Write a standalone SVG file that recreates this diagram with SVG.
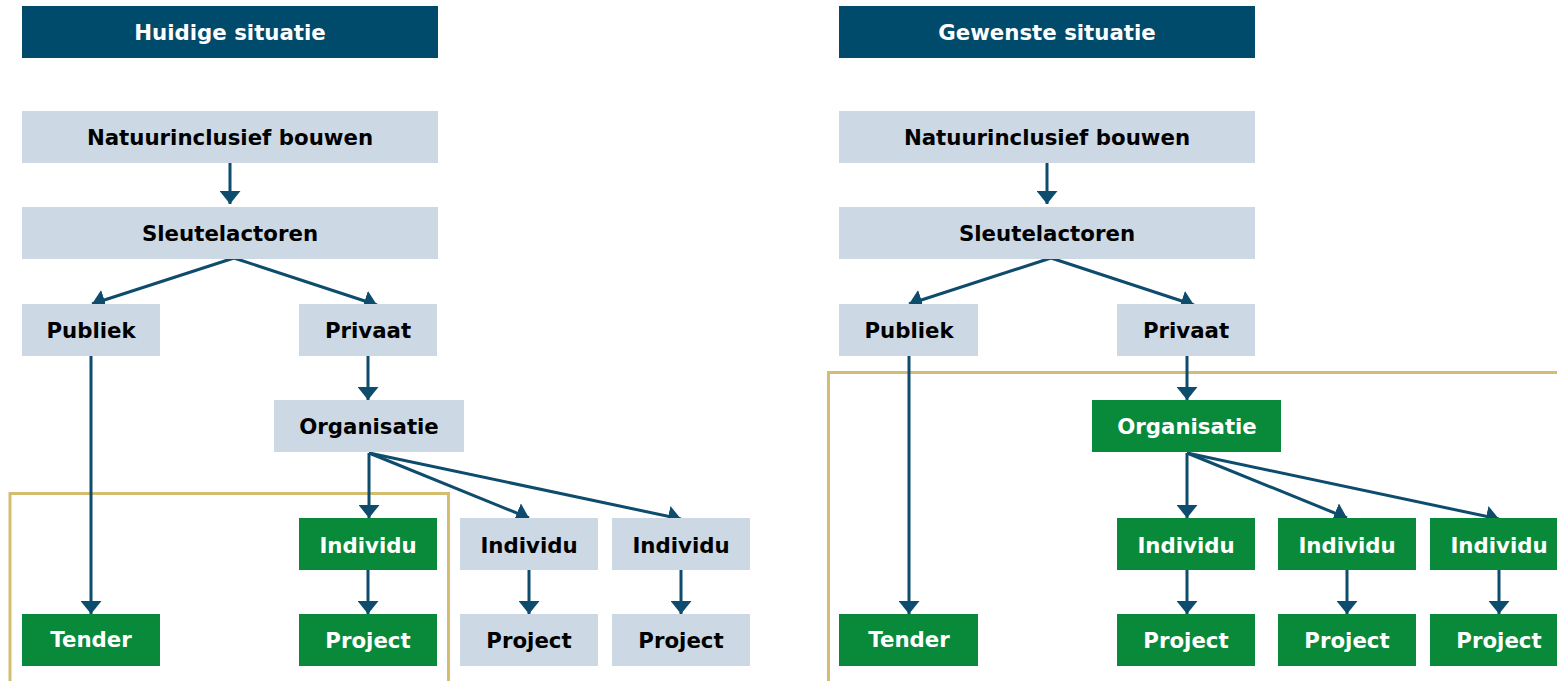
<svg xmlns="http://www.w3.org/2000/svg" width="1557" height="681" viewBox="0 0 1557 681">
<defs>
<style>
.hdr{fill:#004B6B}
.lt{fill:#CCD8E3}
.gr{fill:#088A3A}
text{font-family:"DejaVu Sans",Verdana,sans-serif;font-weight:bold;font-size:21.3px;text-anchor:middle}
.wt{fill:#ffffff}
.bk{fill:#000000}
.con line{stroke:#0D4C6C;stroke-width:3;fill:none;marker-end:url(#ah)}
.frame{fill:none;stroke:#D5BD70;stroke-width:3}
</style>
<marker id="ah" markerUnits="userSpaceOnUse" markerWidth="14" markerHeight="21" refX="13" refY="10.5" orient="auto" viewBox="0 0 14 21">
<path d="M0,0 L13,10.5 L0,21 z" fill="#0D4C6C"/>
</marker>
</defs>
<rect width="1557" height="681" fill="#ffffff"/>

<!-- frames -->
<path class="frame" d="M10,690 V493.5 H448.5 V690"/>
<path class="frame" d="M828.5,690 V372.5 H1570"/>

<!-- connectors -->
<g id="connectors" class="con">
<line x1="230" y1="163" x2="230" y2="204"/>
<line x1="234" y1="258" x2="92" y2="304"/>
<line x1="234" y1="258" x2="377" y2="305"/>
<line x1="91" y1="356" x2="91" y2="614"/>
<line x1="368" y1="356" x2="368" y2="400"/>
<line x1="369" y1="453" x2="369" y2="518"/>
<line x1="369" y1="453" x2="529" y2="518"/>
<line x1="369" y1="453" x2="681" y2="519"/>
<line x1="368" y1="570" x2="368" y2="614"/>
<line x1="529" y1="570" x2="529" y2="614"/>
<line x1="681" y1="570" x2="681" y2="614"/>

<line x1="1047" y1="163" x2="1047" y2="204"/>
<line x1="1051" y1="258" x2="909" y2="304"/>
<line x1="1051" y1="258" x2="1194" y2="305"/>
<line x1="909" y1="356" x2="909" y2="614"/>
<line x1="1187" y1="356" x2="1187" y2="400"/>
<line x1="1187" y1="453" x2="1187" y2="518"/>
<line x1="1187" y1="453" x2="1347" y2="518"/>
<line x1="1187" y1="453" x2="1499" y2="519"/>
<line x1="1187" y1="570" x2="1187" y2="614"/>
<line x1="1347" y1="570" x2="1347" y2="614"/>
<line x1="1499" y1="570" x2="1499" y2="614"/>
</g>

<!-- left panel -->
<g id="hdr-l"><rect class="hdr" x="22" y="6" width="416" height="52"/><text class="wt" x="230" y="40">Huidige situatie</text></g>
<g id="natuur-l"><rect class="lt" x="22" y="111" width="416" height="52"/><text class="bk" x="230" y="145">Natuurinclusief bouwen</text></g>
<g id="sleutel-l"><rect class="lt" x="22" y="207" width="416" height="52"/><text class="bk" x="230" y="241">Sleutelactoren</text></g>
<g id="publiek-l"><rect class="lt" x="22" y="304" width="138" height="52"/><text class="bk" x="91" y="338">Publiek</text></g>
<g id="privaat-l"><rect class="lt" x="299" y="304" width="138" height="52"/><text class="bk" x="368" y="338">Privaat</text></g>
<g id="org-l"><rect class="lt" x="274" y="400" width="190" height="52"/><text class="bk" x="369" y="434">Organisatie</text></g>
<g id="ind1-l"><rect class="gr" x="299" y="518" width="138" height="52"/><text class="wt" x="368" y="553">Individu</text></g>
<g id="ind2-l"><rect class="lt" x="460" y="518" width="138" height="52"/><text class="bk" x="529" y="553">Individu</text></g>
<g id="ind3-l"><rect class="lt" x="612" y="518" width="138" height="52"/><text class="bk" x="681" y="553">Individu</text></g>
<g id="tender-l"><rect class="gr" x="22" y="614" width="138" height="52"/><text class="wt" x="91" y="647">Tender</text></g>
<g id="proj1-l"><rect class="gr" x="299" y="614" width="138" height="52"/><text class="wt" x="368" y="648">Project</text></g>
<g id="proj2-l"><rect class="lt" x="460" y="614" width="138" height="52"/><text class="bk" x="529" y="648">Project</text></g>
<g id="proj3-l"><rect class="lt" x="612" y="614" width="138" height="52"/><text class="bk" x="681" y="648">Project</text></g>

<!-- right panel -->
<g id="hdr-r"><rect class="hdr" x="839" y="6" width="416" height="52"/><text class="wt" x="1047" y="40">Gewenste situatie</text></g>
<g id="natuur-r"><rect class="lt" x="839" y="111" width="416" height="52"/><text class="bk" x="1047" y="145">Natuurinclusief bouwen</text></g>
<g id="sleutel-r"><rect class="lt" x="839" y="207" width="416" height="52"/><text class="bk" x="1047" y="241">Sleutelactoren</text></g>
<g id="publiek-r"><rect class="lt" x="839" y="304" width="139" height="52"/><text class="bk" x="909" y="338">Publiek</text></g>
<g id="privaat-r"><rect class="lt" x="1117" y="304" width="138" height="52"/><text class="bk" x="1186" y="338">Privaat</text></g>
<g id="org-r"><rect class="gr" x="1092" y="400" width="189" height="52"/><text class="wt" x="1187" y="434">Organisatie</text></g>
<g id="ind1-r"><rect class="gr" x="1117" y="518" width="138" height="52"/><text class="wt" x="1186" y="553">Individu</text></g>
<g id="ind2-r"><rect class="gr" x="1278" y="518" width="138" height="52"/><text class="wt" x="1347" y="553">Individu</text></g>
<g id="ind3-r"><rect class="gr" x="1430" y="518" width="138" height="52"/><text class="wt" x="1499" y="553">Individu</text></g>
<g id="tender-r"><rect class="gr" x="839" y="614" width="139" height="52"/><text class="wt" x="909" y="647">Tender</text></g>
<g id="proj1-r"><rect class="gr" x="1117" y="614" width="138" height="52"/><text class="wt" x="1186" y="648">Project</text></g>
<g id="proj2-r"><rect class="gr" x="1278" y="614" width="138" height="52"/><text class="wt" x="1347" y="648">Project</text></g>
<g id="proj3-r"><rect class="gr" x="1430" y="614" width="138" height="52"/><text class="wt" x="1499" y="648">Project</text></g>
</svg>
